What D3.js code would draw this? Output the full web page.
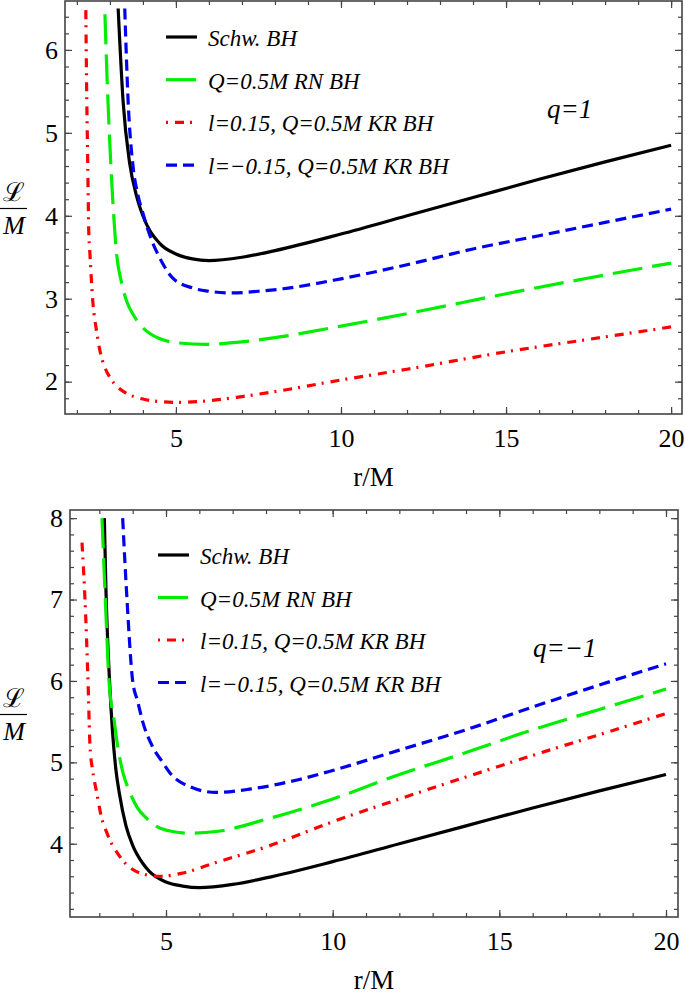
<!DOCTYPE html>
<html>
<head>
<meta charset="utf-8">
<script src="https://cdn.jsdelivr.net/npm/d3@7"></script>
<style>
body { margin: 0; background: #fff; }
svg { display: block; }
</style>
</head>
<body>
<svg width="685" height="998"></svg>
<script>
// tick labels and names
var xTicks = [5, 10, 15, 20];
var topYTicks = [2, 3, 4, 5, 6];
var botYTicks = [4, 5, 6, 7, 8];
var seriesNames = ["Schw. BH", "Q=0.5M RN BH", "l=0.15, Q=0.5M KR BH", "l=\u22120.15, Q=0.5M KR BH"];
var panelLabels = ["q=1", "q=\u22121"];

// q = 1 (top panel)
var schwR1 = [3.25, 3.4, 3.6, 3.8, 4.0, 4.5, 5, 5.5, 6, 7, 8, 10, 12, 14, 16, 18, 20];
var schwL1 = [6.5, 5.38, 4.63, 4.25, 4.0, 3.67, 3.54, 3.48, 3.46, 3.5, 3.58, 3.78, 4.0, 4.22, 4.44, 4.65, 4.85];
var rnR1 = [2.85, 2.92, 3.0, 3.1, 3.2, 3.35, 3.5, 3.75, 4.0, 4.5, 5.0, 5.9, 7.0, 8.0, 10, 12, 15, 17.5, 20];
var rnL1 = [6.43, 5.6, 4.85, 4.1, 3.55, 3.2, 2.98, 2.78, 2.65, 2.52, 2.47, 2.45, 2.48, 2.53, 2.67, 2.82, 3.06, 3.25, 3.43];
var krPosR1 = [2.27, 2.3, 2.33, 2.36, 2.39, 2.48, 2.6, 2.7, 2.85, 3.0, 3.25, 3.5, 4.0, 4.5, 5.0, 6.0, 7.0, 8.0, 10, 12, 15, 17.5, 20];
var krPosL1 = [6.48, 5.4, 4.6, 3.8, 3.58, 2.98, 2.6, 2.37, 2.17, 2.05, 1.93, 1.86, 1.79, 1.76, 1.75, 1.77, 1.82, 1.88, 2.02, 2.15, 2.36, 2.51, 2.66];
var krNegR1 = [3.45, 3.55, 3.7, 3.85, 4.0, 4.27, 4.5, 4.9, 5.5, 6.0, 6.7, 7.5, 8.25, 10, 12, 14, 16, 18, 20];
var krNegL1 = [6.5, 5.4, 4.6, 4.25, 4.03, 3.7, 3.5, 3.25, 3.13, 3.09, 3.07, 3.09, 3.12, 3.24, 3.41, 3.6, 3.76, 3.92, 4.08];

// q = -1 (bottom panel)
var schwR2 = [3.15, 3.2, 3.3, 3.4, 3.5, 3.6, 3.8, 4.0, 4.3, 4.5, 5, 5.5, 6, 7, 8, 10, 12, 14, 16, 18, 20];
var schwL2 = [8.0, 7.1, 6.05, 5.35, 4.9, 4.62, 4.22, 3.98, 3.76, 3.66, 3.53, 3.48, 3.46, 3.5, 3.58, 3.78, 4.0, 4.22, 4.44, 4.65, 4.85];
var rnR2 = [3.08, 3.18, 3.29, 3.45, 3.55, 3.71, 3.9, 4.13, 4.4, 4.73, 5.2, 5.63, 6.5, 8, 10, 12, 14, 16, 18, 20];
var rnL2 = [8.0, 7.0, 6.0, 5.5, 5.2, 4.87, 4.65, 4.45, 4.32, 4.21, 4.15, 4.13, 4.15, 4.3, 4.55, 4.85, 5.12, 5.4, 5.65, 5.9];
var krPosR2 = [2.48, 2.57, 2.66, 2.72, 2.8, 2.92, 3.05, 3.23, 3.62, 4.22, 4.82, 5.5, 6.5, 8, 10, 12, 14, 16.5, 18, 20];
var krPosL2 = [7.7, 7.0, 6.0, 5.2, 4.9, 4.63, 4.35, 4.13, 3.84, 3.64, 3.6, 3.64, 3.77, 3.96, 4.27, 4.55, 4.82, 5.15, 5.34, 5.6];
var krNegR2 = [3.7, 3.83, 4.0, 4.15, 4.3, 4.6, 4.9, 5.12, 5.72, 6.5, 7.5, 9, 10, 12, 14, 16, 18, 20];
var krNegL2 = [8.0, 7.0, 6.0, 5.75, 5.5, 5.19, 5.0, 4.87, 4.7, 4.63, 4.67, 4.79, 4.9, 5.15, 5.4, 5.68, 5.95, 6.21];

var styles = [
  { color: "#000000", dash: null },
  { color: "#00ee00", dash: "30,10" },
  { color: "#ff0000", dash: "9,6,2,7", legendOffset: 15 },
  { color: "#0000ee", dash: "11,6" }
];

function pairs(rs, ls) {
  return rs.map(function(r, i) { return { r: r, L: ls[i] }; });
}

var panels = [
  { left: 65, right: 682, top: 1, bottom: 414, xDomain: [1.64, 20.33], yDomain: [1.61, 6.59],
    yTicks: topYTicks, legX: 166, legY: 37, legStep: 42.7, qX: 547, qY: 118, label: panelLabels[0],
    series: [pairs(schwR1, schwL1), pairs(rnR1, rnL1), pairs(krPosR1, krPosL1), pairs(krNegR1, krNegL1)] },
  { left: 70, right: 678, top: 510, bottom: 917, xDomain: [2.12, 20.36], yDomain: [3.1, 8.1],
    yTicks: botYTicks, legX: 158, legY: 555, legStep: 42.5, qX: 533, qY: 657, label: panelLabels[1],
    series: [pairs(schwR2, schwL2), pairs(rnR2, rnL2), pairs(krPosR2, krPosL2), pairs(krNegR2, krNegL2)] }
];

var serif = "'Liberation Serif', 'Times New Roman', 'DejaVu Serif', serif";
var svg = d3.select("svg");

function drawPanel(p, idx) {
  var x = d3.scaleLinear().domain(p.xDomain).range([p.left, p.right]);
  var y = d3.scaleLinear().domain(p.yDomain).range([p.bottom, p.top]);

  var xMinor = d3.range(2, 21, 1).filter(function(v) { return v >= p.xDomain[0] && v <= p.xDomain[1]; });
  var yMinor = d3.range(Math.ceil(p.yDomain[0] * 5), Math.floor(p.yDomain[1] * 5) + 1).map(function(v) { return v / 5; });

  svg.append("clipPath").attr("id", "clip" + idx)
    .append("rect")
    .attr("x", p.left).attr("y", p.top)
    .attr("width", p.right - p.left).attr("height", p.bottom - p.top);

  // minor ticks on all four sides
  var axes = [
    [d3.axisBottom(x), "translate(0," + p.bottom + ")", xMinor, xTicks],
    [d3.axisTop(x), "translate(0," + p.top + ")", xMinor, xTicks],
    [d3.axisLeft(y), "translate(" + p.left + ",0)", yMinor, p.yTicks],
    [d3.axisRight(y), "translate(" + p.right + ",0)", yMinor, p.yTicks]
  ];
  axes.forEach(function(a, k) {
    var g = svg.append("g").attr("transform", a[1]).attr("color", "#444");
    g.call(a[0].tickValues(a[2]).tickSize(-4).tickFormat(""));
    g.select(".domain").remove();
    var g2 = svg.append("g").attr("transform", a[1]).attr("color", "#444");
    var ax = a[0].tickValues(a[3]).tickSize(-7);
    if (k == 0) ax.tickFormat(d3.format("d")).tickPadding(14.5);
    else if (k == 2) ax.tickFormat(d3.format("d")).tickPadding(7);
    else ax.tickFormat("");
    g2.call(ax);
    g2.select(".domain").remove();
    g2.attr("font-family", serif).attr("font-size", 26);
    g2.selectAll("text").attr("fill", "#000");
    g2.selectAll("line").attr("stroke-width", 1.2);
    g.selectAll("line").attr("stroke-width", 1.2);
  });

  var line = d3.line()
    .x(function(d) { return x(d.r); })
    .y(function(d) { return y(d.L); })
    .curve(d3.curveMonotoneX);

  var plot = svg.append("g").attr("clip-path", "url(#clip" + idx + ")");
  p.series.forEach(function(s, i) {
    plot.append("path")
      .datum(s)
      .attr("fill", "none")
      .attr("stroke", styles[i].color)
      .attr("stroke-width", 3.2)
      .attr("stroke-dasharray", styles[i].dash)
      .attr("d", line);
  });

  // frame
  svg.append("rect")
    .attr("x", p.left).attr("y", p.top)
    .attr("width", p.right - p.left).attr("height", p.bottom - p.top)
    .attr("fill", "none")
    .attr("stroke", "#444")
    .attr("stroke-width", 1.6);

  // legend
  seriesNames.forEach(function(name, i) {
    var ly = p.legY + i * p.legStep;
    svg.append("line")
      .attr("x1", p.legX).attr("x2", p.legX + 31)
      .attr("y1", ly).attr("y2", ly)
      .attr("stroke", styles[i].color)
      .attr("stroke-width", 3.2)
      .attr("stroke-dasharray", styles[i].dash)
      .attr("stroke-dashoffset", styles[i].legendOffset || 0);
    svg.append("text")
      .attr("x", p.legX + 42).attr("y", ly + 9)
      .attr("font-family", serif).attr("font-style", "italic")
      .attr("font-size", 23)
      .text(name);
  });

  svg.append("text")
    .attr("x", p.qX).attr("y", p.qY)
    .attr("font-family", serif).attr("font-style", "italic")
    .attr("font-size", 27)
    .text(p.label);

  // axis titles
  svg.append("text")
    .attr("x", (p.left + p.right) / 2 + 0).attr("y", p.bottom + 72)
    .attr("text-anchor", "middle")
    .attr("font-family", serif).attr("font-size", 27)
    .text("r/M");

  var bar = (p.top + p.bottom) / 2 + 1;
  svg.append("text")
    .attr("x", 14).attr("y", bar - 8)
    .attr("text-anchor", "middle")
    .attr("font-family", serif).attr("font-size", 26)
    .text("\u2112");
  svg.append("line")
    .attr("x1", 0).attr("x2", 27)
    .attr("y1", bar).attr("y2", bar)
    .attr("stroke", "#000").attr("stroke-width", 1.2);
  svg.append("text")
    .attr("x", 14).attr("y", bar + 25)
    .attr("text-anchor", "middle")
    .attr("font-family", serif).attr("font-style", "italic").attr("font-size", 26)
    .text("M");
}

panels.forEach(drawPanel);
</script>
</body>
</html>
